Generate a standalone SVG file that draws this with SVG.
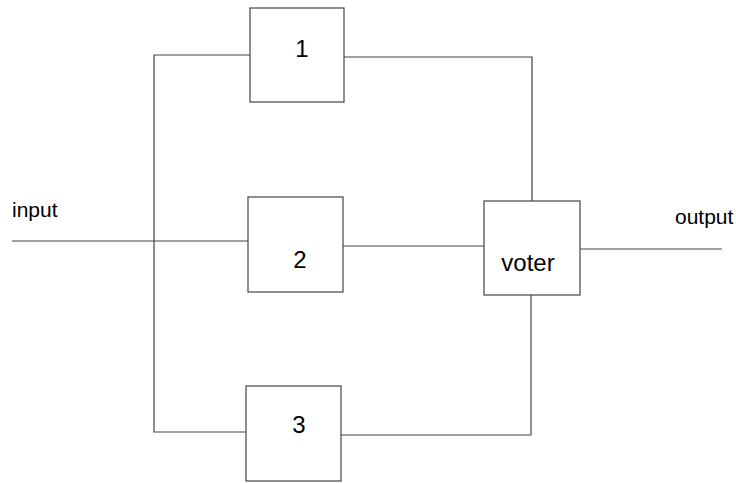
<svg xmlns="http://www.w3.org/2000/svg" width="736" height="483" viewBox="0 0 736 483">
<style>
.box{fill:#fff;stroke:#444;stroke-width:1.2}
.ln{fill:none;stroke:#444;stroke-width:1.2}
text{font-family:"Liberation Sans",Arial,sans-serif;fill:#000}
.lbl{font-size:21px}
.dig{font-size:24px;text-anchor:middle}
</style>
<rect width="736" height="483" fill="#fff"/>
<g id="connectors">
<polyline class="ln" points="12,241 248,241"/>
<polyline class="ln" points="250,55 154,55 154,432 246,432"/>
<polyline class="ln" points="344,57 532,57 532,201"/>
<polyline class="ln" points="343,246 484,246"/>
<polyline class="ln" points="341,435 531,435 531,295"/>
<polyline class="ln" points="580,249 722,249"/>
</g>
<g id="label-input"><text class="lbl" x="12" y="217">input</text></g>
<g id="label-output"><text class="lbl" x="675" y="224">output</text></g>
<g id="node-1"><rect class="box" x="250" y="8" width="94" height="94"/><text class="dig" x="302" y="57">1</text></g>
<g id="node-2"><rect class="box" x="248" y="197" width="95" height="95"/><text class="dig" x="300" y="268">2</text></g>
<g id="node-3"><rect class="box" x="246" y="386" width="95" height="95"/><text class="dig" x="299" y="433">3</text></g>
<g id="node-voter"><rect class="box" x="484" y="201" width="96" height="94"/><text class="dig" x="528" y="271">voter</text></g>
</svg>
